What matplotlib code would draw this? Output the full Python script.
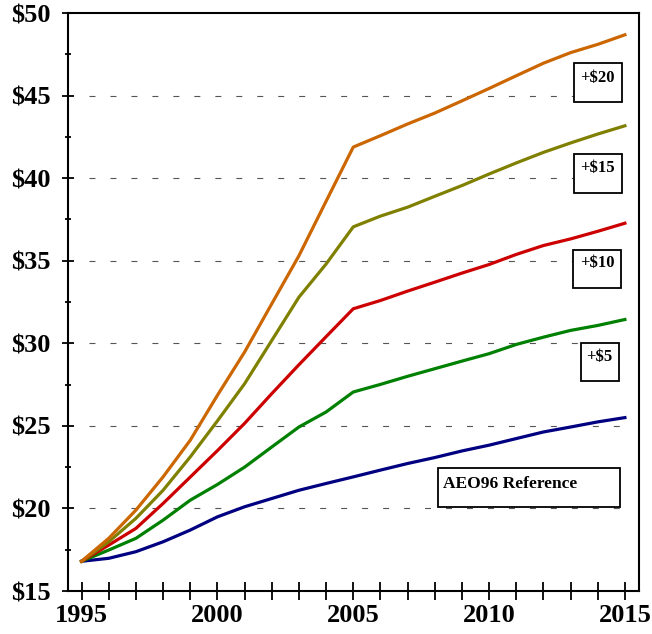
import matplotlib
matplotlib.use("Agg")
import matplotlib.pyplot as plt
from matplotlib.patches import Rectangle
from matplotlib.ticker import MultipleLocator, FuncFormatter

years = list(range(1995, 2016))
ref = [16.8, 16.98, 17.38, 17.98, 18.69, 19.49, 20.1, 20.6, 21.1, 21.51, 21.91,
       22.32, 22.72, 23.08, 23.48, 23.83, 24.23, 24.63, 24.93, 25.24, 25.5]
p5 = [16.8, 17.48, 18.19, 19.29, 20.5, 21.45, 22.5, 23.72, 24.93, 25.84, 27.05,
      27.51, 28.0, 28.46, 28.92, 29.37, 29.93, 30.37, 30.78, 31.08, 31.44]
p10 = [16.8, 17.78, 18.79, 20.3, 21.9, 23.5, 25.15, 26.95, 28.7, 30.4, 32.09,
       32.59, 33.16, 33.7, 34.25, 34.77, 35.38, 35.92, 36.32, 36.78, 37.27]
p15 = [16.8, 17.98, 19.4, 21.1, 23.12, 25.3, 27.55, 30.17, 32.79, 34.8, 37.05,
       37.7, 38.24, 38.9, 39.55, 40.25, 40.92, 41.56, 42.13, 42.67, 43.17]
p20 = [16.8, 18.19, 19.9, 21.91, 24.13, 26.85, 29.47, 32.39, 35.3, 38.6, 41.88,
       42.57, 43.28, 43.94, 44.68, 45.43, 46.2, 46.96, 47.6, 48.1, 48.68]

series = [ref, p5, p10, p15, p20]
colors = ["#000080", "#008000", "#CC0000", "#808000", "#CC6600"]
labels = ["AEO96 Reference", "+$5", "+$10", "+$15", "+$20"]
grid_levels = [20, 25, 30, 35, 40, 45]

W, H = 652, 634
fig = plt.figure(figsize=(W / 100, H / 100), dpi=100)
ax = fig.add_axes([68 / W, (H - 591) / H, (638.5 - 68) / W, (591 - 13) / H])

serif = ["Liberation Serif", "DejaVu Serif"]

ax.hlines(grid_levels, 1995.26, 2015.0, colors="#555555", linewidth=0.8,
          linestyles=(0, (4.3 / 0.8, 10.8 / 0.8)), zorder=1)

for vals, c in zip(series, colors):
    ax.plot(years, vals, color=c, linewidth=2.3, zorder=3, solid_joinstyle="round")

ax.set_xlim(1994.5, 2015.5)
ax.set_ylim(15, 50)

for s in ax.spines.values():
    s.set_linewidth(1.5)

ax.xaxis.set_major_locator(MultipleLocator(1))
ax.xaxis.set_major_formatter(FuncFormatter(lambda v, p: f"{int(round(v))}" if int(round(v)) % 5 == 0 else ""))
ax.yaxis.set_major_locator(MultipleLocator(5))
ax.yaxis.set_minor_locator(MultipleLocator(2.5))
ax.yaxis.set_major_formatter(FuncFormatter(lambda v, p: f"${int(round(v))}"))

ax.tick_params(axis="x", which="major", direction="inout", length=13, width=1.3, pad=3)
ax.tick_params(axis="y", which="major", direction="inout", length=8, width=1.3, pad=8.5)
ax.tick_params(axis="y", which="minor", direction="inout", length=4, width=1.3)
for lab in ax.get_xticklabels() + ax.get_yticklabels():
    lab.set_fontfamily(serif)
    lab.set_fontweight("bold")
    lab.set_fontsize(19)


def px_box(x0, y0, x1, y1):
    r = Rectangle((x0 / W, 1 - y1 / H), (x1 - x0) / W, (y1 - y0) / H,
                  transform=fig.transFigure, facecolor="white", edgecolor="black",
                  linewidth=1.3, zorder=4)
    ax.add_artist(r)
    r.set_clip_on(False)


def px_text(x, y, s, size, ha="center"):
    fig.text(x / W, 1 - y / H, s, ha=ha, va="center", fontsize=size,
             fontweight="bold", family=serif, zorder=5)


boxes = {
    "+$20": ((574, 63, 622, 102), (597, 78)),
    "+$15": ((574, 154, 622, 193), (597, 168)),
    "+$10": ((573, 250, 621, 288), (597, 263)),
    "+$5": ((581, 343, 619, 381), (599, 357)),
}
for lab in labels[1:]:
    (b, t) = boxes[lab]
    px_box(*b)
    px_text(t[0], t[1], lab.replace("$", r"\$"), 12)

px_box(438, 468, 620, 507)
px_text(443, 484, labels[0], 12.5, ha="left")

fig.savefig("out.png", dpi=100)
